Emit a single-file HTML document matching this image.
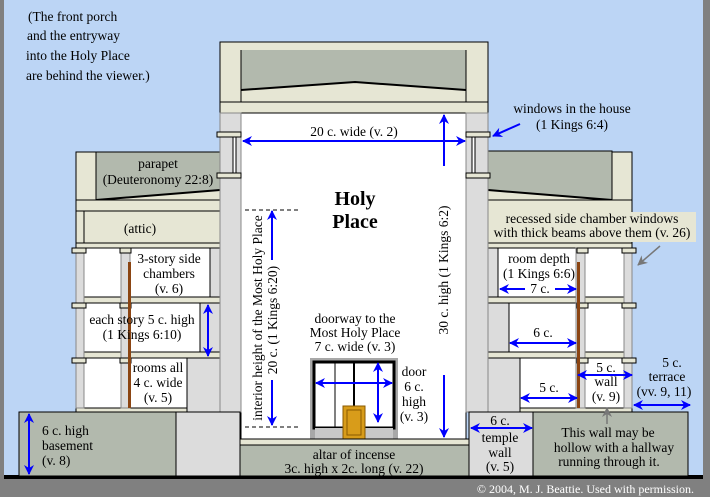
<!DOCTYPE html>
<html><head><meta charset="utf-8"><style>
html,body{margin:0;padding:0;background:#bcd5f5;}
svg{display:block}
text{font-family:"Liberation Serif",serif;font-size:13.5px;fill:#000}
</style></head><body>
<svg width="710" height="497" viewBox="0 0 710 497" xmlns="http://www.w3.org/2000/svg">
<defs>
<marker id="a" markerWidth="10" markerHeight="10" refX="9" refY="5" orient="auto" markerUnits="userSpaceOnUse"><path d="M0,0 L10,5 L0,10 L3,5 Z" fill="#0000ff"/></marker>
<marker id="g" markerWidth="10" markerHeight="10" refX="9" refY="5" orient="auto" markerUnits="userSpaceOnUse"><path d="M0,0 L10,5 L0,10 L3,5 Z" fill="#777"/></marker>
</defs>
<rect width="710" height="497" fill="#bcd5f5"/>
<rect x="0" y="0" width="4" height="497" fill="#808080"/>
<rect x="703" y="0" width="7" height="497" fill="#808080"/>
<rect x="0" y="478" width="710" height="19" fill="#808080"/>
<rect x="4" y="475" width="699" height="4" fill="#000"/>

<!-- LEFT BUILDING -->
<g stroke="#000" stroke-width="1">
<rect x="76" y="152" width="144" height="48" fill="#e6e6d4"/>
<polygon points="96,152 220,152 220,190 96,200" fill="#b2b9ad"/>
<line x1="96" y1="200" x2="220" y2="190" stroke-width="2"/>
<rect x="76" y="200" width="144" height="11" fill="#e6e6d4"/>
<rect x="84" y="211" width="136" height="32" fill="#e6e6d4"/>
<rect x="76" y="211" width="8" height="32" fill="#e6e6d4"/>
<rect x="76" y="243" width="144" height="5" fill="#e6e6d4"/>
<rect x="84" y="248" width="126" height="49" fill="#fff"/>
<rect x="210" y="248" width="30" height="49" fill="#dcdcdc"/>
<rect x="76" y="297" width="164" height="6" fill="#e6e6d4"/>
<rect x="84" y="303" width="116" height="49" fill="#fff"/>
<rect x="200" y="303" width="40" height="49" fill="#dcdcdc"/>
<rect x="76" y="352" width="164" height="6" fill="#e6e6d4"/>
<rect x="84" y="358" width="103" height="50" fill="#fff"/>
<rect x="187" y="358" width="53" height="54" fill="#dcdcdc"/>
<rect x="76" y="408" width="111" height="4" fill="#e6e6d4"/>
</g>
<g fill="#dcdcdc" stroke="#888" stroke-width="1">
<rect x="76" y="248" width="8" height="160"/>
<rect x="121" y="248" width="9" height="160"/>
</g>
<g fill="#e6e6d4" stroke="#000"><rect x="72" y="248" width="14" height="5"/><rect x="120" y="248" width="11" height="5"/>
<rect x="72" y="303" width="14" height="5"/><rect x="120" y="303" width="11" height="5"/>
<rect x="72" y="358" width="14" height="5"/><rect x="120" y="358" width="11" height="5"/></g>
<rect x="128" y="262" width="3" height="146" fill="#8b4513"/>

<!-- RIGHT BUILDING -->
<g stroke="#000" stroke-width="1">
<rect x="488" y="152" width="144" height="48" fill="#e6e6d4"/>
<polygon points="488,151 612,151 612,200 488,190" fill="#b2b9ad"/>
<line x1="488" y1="190" x2="612" y2="200" stroke-width="2"/>
<rect x="488" y="200" width="144" height="43" fill="#e6e6d4"/>
<rect x="488" y="243" width="144" height="5" fill="#e6e6d4"/>
<rect x="466" y="248" width="32" height="49" fill="#dcdcdc"/>
<rect x="498" y="248" width="126" height="49" fill="#fff"/>
<rect x="488" y="297" width="144" height="6" fill="#e6e6d4"/>
<rect x="466" y="303" width="43" height="49" fill="#dcdcdc"/>
<rect x="509" y="303" width="115" height="49" fill="#fff"/>
<rect x="488" y="352" width="144" height="6" fill="#e6e6d4"/>
<rect x="466" y="358" width="54" height="54" fill="#dcdcdc"/>
<rect x="520" y="358" width="104" height="50" fill="#fff"/>
<rect x="520" y="408" width="112" height="4" fill="#e6e6d4"/>
</g>
<g fill="#dcdcdc" stroke="#888"><rect x="576" y="248" width="9" height="160"/><rect x="624" y="248" width="8" height="160"/></g>
<g fill="#e6e6d4" stroke="#000"><rect x="577" y="248" width="11" height="5"/><rect x="622" y="248" width="14" height="5"/>
<rect x="577" y="303" width="11" height="5"/><rect x="622" y="303" width="14" height="5"/>
<rect x="577" y="358" width="11" height="5"/><rect x="622" y="358" width="14" height="5"/></g>
<rect x="577" y="262" width="3" height="146" fill="#8b4513"/>
<rect x="488" y="212" width="208" height="30" fill="#e6e6d4"/>

<!-- CENTRAL TOWER -->
<g stroke="#000" stroke-width="1">
<rect x="220" y="42" width="268" height="60" fill="#e6e6d4"/>
<polygon points="241,50 466,50 466,90 355,82 241,90" fill="#b2b9ad" stroke="none"/>
<polyline points="241,90 355,82 466,90" fill="none" stroke-width="2"/>
<line x1="241" y1="50" x2="241" y2="102"/><line x1="466" y1="50" x2="466" y2="102"/>
<rect x="220" y="102" width="268" height="11" fill="#e6e6d4"/>
<rect x="241" y="113" width="225" height="326" fill="#fff"/>
<rect x="220" y="113" width="21" height="299" fill="#dcdcdc" stroke="#888"/>
<rect x="466" y="113" width="22" height="299" fill="#dcdcdc" stroke="#888"/>
<rect x="217" y="132" width="24" height="5" fill="#e6e6d4"/>
<rect x="466" y="132" width="24" height="5" fill="#e6e6d4"/>
<rect x="217" y="173" width="24" height="5" fill="#e6e6d4"/>
<rect x="466" y="173" width="24" height="5" fill="#e6e6d4"/>
<rect x="233" y="137" width="3" height="36" fill="#fff"/>
<rect x="472" y="137" width="3" height="36" fill="#fff"/>
<rect x="310" y="358" width="88" height="81" fill="#a8a8a8" stroke="none"/>
<rect x="314" y="362" width="80" height="66" fill="#fff" stroke-width="3"/>
<rect x="315" y="428" width="78" height="11" fill="#c8c8c8" stroke="none"/>
<line x1="335" y1="363" x2="335" y2="427"/><line x1="354" y1="363" x2="354" y2="427" stroke-width="2"/>
<rect x="343" y="406" width="22" height="33" fill="#d89c1a" stroke="#8a5a00"/>
<rect x="347" y="410" width="14" height="25" fill="none" stroke="#8a5a00"/>
<rect x="240" y="439" width="229" height="6" fill="#e6e6d4"/>
<rect x="240" y="445" width="229" height="31" fill="#b2b9ad"/>
<rect x="19" y="412" width="157" height="64" fill="#b2b9ad"/>
<rect x="176" y="412" width="64" height="64" fill="#dcdcdc"/>
<rect x="469" y="412" width="64" height="64" fill="#dcdcdc"/>
<rect x="533" y="412" width="155" height="64" fill="#b2b9ad"/>
</g>

<g stroke="#0000ff" stroke-width="2" fill="none">
<line x1="270" y1="141" x2="243" y2="141" marker-end="url(#a)"/><line x1="270" y1="141" x2="465" y2="141" marker-end="url(#a)"/>
<line x1="444" y1="166" x2="444" y2="115" marker-end="url(#a)"/><line x1="444" y1="375" x2="444" y2="437" marker-end="url(#a)"/>
<line x1="272" y1="260" x2="272" y2="211" marker-end="url(#a)"/><line x1="272" y1="380" x2="272" y2="425" marker-end="url(#a)"/>
<line x1="340" y1="383" x2="316" y2="383" marker-end="url(#a)"/><line x1="340" y1="383" x2="392" y2="383" marker-end="url(#a)"/>
<line x1="378" y1="390" x2="378" y2="363" marker-end="url(#a)"/><line x1="378" y1="390" x2="378" y2="422" marker-end="url(#a)"/>
<line x1="520" y1="124" x2="493" y2="136" marker-end="url(#a)"/>
<line x1="208" y1="330" x2="208" y2="305" marker-end="url(#a)"/><line x1="208" y1="330" x2="208" y2="356" marker-end="url(#a)"/>
<line x1="29" y1="440" x2="29" y2="414" marker-end="url(#a)"/><line x1="29" y1="440" x2="29" y2="474" marker-end="url(#a)"/>
<line x1="500" y1="428" x2="471" y2="428" marker-end="url(#a)"/><line x1="500" y1="428" x2="532" y2="428" marker-end="url(#a)"/>
<line x1="525" y1="289" x2="500" y2="289" marker-end="url(#a)"/><line x1="555" y1="289" x2="576" y2="289" marker-end="url(#a)"/>
<line x1="543" y1="343" x2="510" y2="343" marker-end="url(#a)"/><line x1="543" y1="343" x2="576" y2="343" marker-end="url(#a)"/>
<line x1="548" y1="398" x2="521" y2="398" marker-end="url(#a)"/><line x1="548" y1="398" x2="577" y2="398" marker-end="url(#a)"/>
<line x1="605" y1="375" x2="578" y2="375" marker-end="url(#a)"/><line x1="605" y1="375" x2="632" y2="375" marker-end="url(#a)"/>
<line x1="662" y1="405" x2="634" y2="405" marker-end="url(#a)"/><line x1="662" y1="405" x2="690" y2="405" marker-end="url(#a)"/>
</g>
<g stroke="#000" stroke-dasharray="4,3"><line x1="245" y1="210" x2="300" y2="210"/><line x1="245" y1="427" x2="300" y2="427"/></g>
<g stroke="#777" stroke-width="1.5"><line x1="660" y1="246" x2="638" y2="265" marker-end="url(#g)"/><line x1="607" y1="424" x2="607" y2="408" marker-end="url(#g)"/></g>

<g>
<text x="28" y="21">(The front porch</text>
<text x="27" y="40">and the entryway</text>
<text x="26" y="60">into the Holy Place</text>
<text x="26" y="80">are behind the viewer.)</text>
<text x="572" y="113" text-anchor="middle">windows in the house</text>
<text x="572" y="129" text-anchor="middle">(1 Kings 6:4)</text>
<text x="354" y="136" text-anchor="middle">20 c. wide (v. 2)</text>
<text x="355" y="205" text-anchor="middle" style="font-size:20px;font-weight:bold">Holy</text>
<text x="355" y="228" text-anchor="middle" style="font-size:20px;font-weight:bold">Place</text>
<text transform="translate(448,270) rotate(-90)" text-anchor="middle">30 c. high (1 Kings 6:2)</text>
<text transform="translate(262,318) rotate(-90)" text-anchor="middle">interior height of the Most Holy Place</text>
<text transform="translate(277,320) rotate(-90)" text-anchor="middle">20 c. (1 Kings 6:20)</text>
<text x="355" y="323" text-anchor="middle">doorway to the</text>
<text x="355" y="337" text-anchor="middle">Most Holy Place</text>
<text x="355" y="351" text-anchor="middle">7 c. wide (v. 3)</text>
<text x="414" y="376" text-anchor="middle">door</text>
<text x="414" y="391" text-anchor="middle">6 c.</text>
<text x="414" y="406" text-anchor="middle">high</text>
<text x="414" y="421" text-anchor="middle">(v. 3)</text>
<text x="158" y="168" text-anchor="middle">parapet</text>
<text x="158" y="184" text-anchor="middle">(Deuteronomy 22:8)</text>
<text x="140" y="233" text-anchor="middle">(attic)</text>
<text x="169" y="263" text-anchor="middle">3-story side</text>
<text x="169" y="278" text-anchor="middle">chambers</text>
<text x="169" y="293" text-anchor="middle">(v. 6)</text>
<text x="142" y="324" text-anchor="middle">each story 5 c. high</text>
<text x="142" y="339" text-anchor="middle">(1 Kings 6:10)</text>
<text x="158" y="372" text-anchor="middle">rooms all</text>
<text x="158" y="387" text-anchor="middle">4 c. wide</text>
<text x="158" y="402" text-anchor="middle">(v. 5)</text>
<text x="42" y="435">6 c. high</text>
<text x="42" y="450">basement</text>
<text x="42" y="465">(v. 8)</text>
<text x="354" y="459" text-anchor="middle">altar of incense</text>
<text x="354" y="473" text-anchor="middle">3c. high x 2c. long (v. 22)</text>
<text x="500" y="425" text-anchor="middle">6 c.</text>
<text x="500" y="442" text-anchor="middle">temple</text>
<text x="500" y="457" text-anchor="middle">wall</text>
<text x="500" y="471" text-anchor="middle">(v. 5)</text>
<text x="608" y="437" text-anchor="middle">This wall may be</text>
<text x="614" y="452" text-anchor="middle">hollow with a hallway</text>
<text x="609" y="466" text-anchor="middle">running through it.</text>
<text x="592" y="223" text-anchor="middle">recessed side chamber windows</text>
<text x="592" y="237" text-anchor="middle">with thick beams above them (v. 26)</text>
<text x="539" y="263" text-anchor="middle">room depth</text>
<text x="539" y="278" text-anchor="middle">(1 Kings 6:6)</text>
<text x="540" y="293" text-anchor="middle">7 c.</text>
<text x="543" y="337" text-anchor="middle">6 c.</text>
<text x="549" y="392" text-anchor="middle">5 c.</text>
<text x="606" y="372" text-anchor="middle">5 c.</text>
<text x="606" y="386" text-anchor="middle">wall</text>
<text x="606" y="401" text-anchor="middle">(v. 9)</text>
<text x="672" y="367" text-anchor="middle">5 c.</text>
<text x="667" y="381" text-anchor="middle">terrace</text>
<text x="664" y="396" text-anchor="middle">(vv. 9, 11)</text>
<text x="694" y="493" text-anchor="end" style="fill:#fff;font-size:12px">© 2004, M. J. Beattie.  Used with permission.</text>
</g>
</svg>
</body></html>
